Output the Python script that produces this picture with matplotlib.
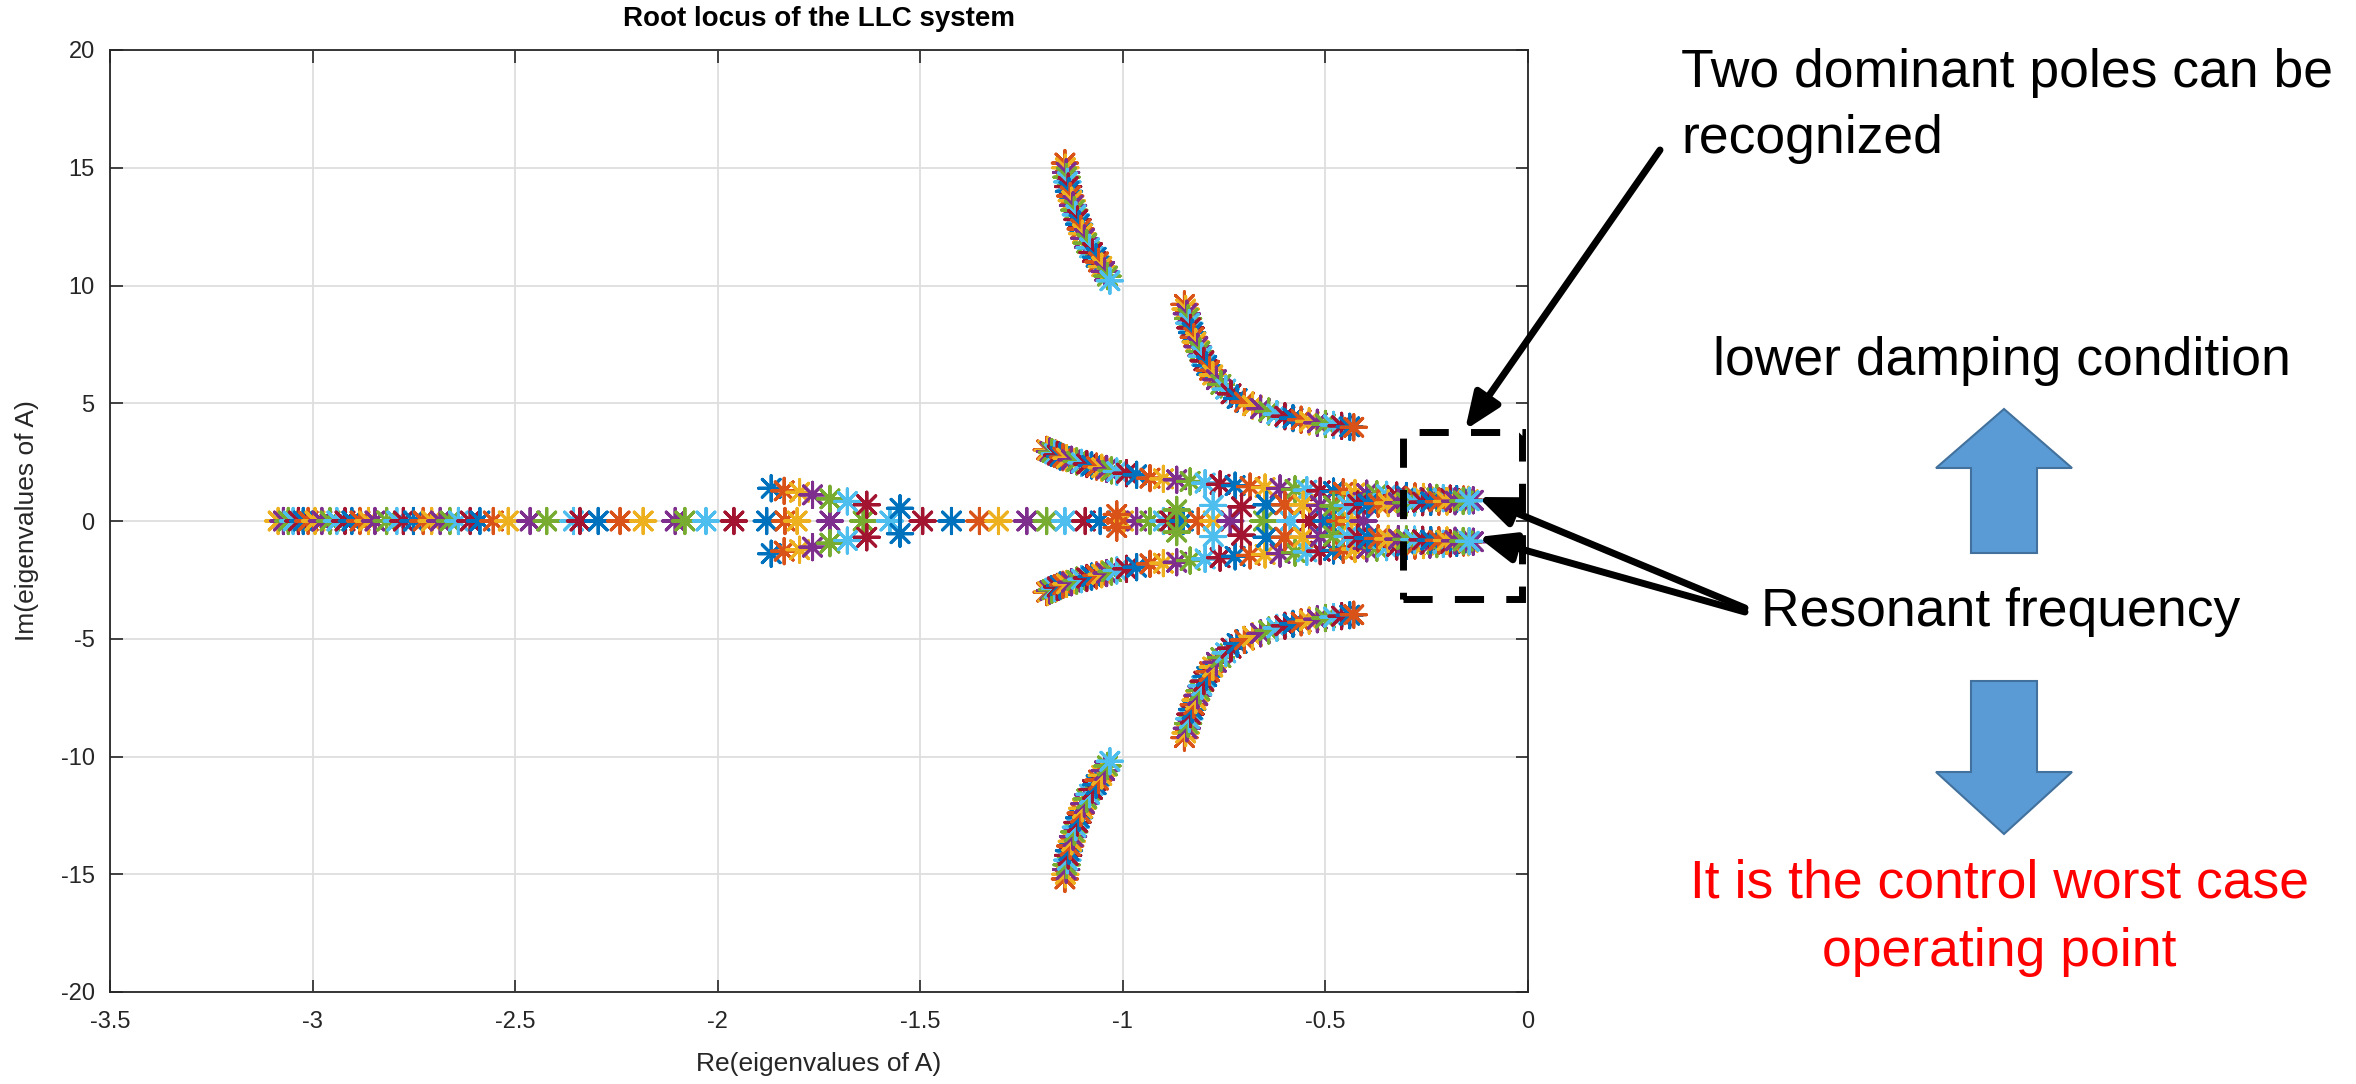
import numpy as np
import matplotlib.pyplot as plt
from matplotlib.patches import Rectangle, Polygon, FancyArrowPatch, ArrowStyle

plt.rcParams['font.family'] = ['Liberation Sans', 'DejaVu Sans']
plt.rcParams['axes.unicode_minus'] = False

# MATLAB default colour order, one colour per parameter step
matlabColors = ['#0072BD', '#D95319', '#EDB120', '#7E2F8E', '#77AC30', '#4DBEEE', '#A2142F']

# eigenvalues (upper half; conjugates are mirrored)
realAxisRe = [-3.085, -3.072, -3.060, -3.048, -3.035, -3.023, -3.011, -2.994, -2.977, -2.957,
              -2.940, -2.920, -2.903, -2.883, -2.862, -2.846, -2.817, -2.792, -2.776, -2.751,
              -2.727, -2.706, -2.685, -2.661, -2.640, -2.611, -2.587, -2.554, -2.517, -2.463,
              -2.422, -2.356, -2.340, -2.295, -2.241, -2.184, -2.105, -2.081, -2.029, -1.960,
              -1.879, -1.834, -1.804, -1.723, -1.641, -1.575, -1.494, -1.423, -1.354, -1.307,
              -1.237, -1.188, -1.143, -1.093, -1.056, -1.015, -0.999, -0.966, -0.933, -0.900,
              -0.884, -0.851, -0.814, -0.777, -0.735, -0.653, -0.587, -0.538, -0.497, -0.464,
              -0.435, -0.406]

smallRe = [-1.868, -1.836, -1.798, -1.766, -1.723, -1.680, -1.632, -1.550, -1.015]
smallIm = [1.39, 1.28, 1.22, 1.11, 0.94, 0.83, 0.69, 0.54, 0.28]

branchARe = [-1.143, -1.142, -1.140, -1.139, -1.137, -1.135, -1.133, -1.130, -1.126, -1.123,
             -1.120, -1.116, -1.112, -1.108, -1.104, -1.100, -1.095, -1.089, -1.082, -1.075,
             -1.066, -1.060, -1.052, -1.045, -1.038, -1.032]
branchAIm = [15.2, 15.0, 14.8, 14.6, 14.4, 14.2, 14.0, 13.8, 13.6, 13.4,
             13.2, 13.0, 12.8, 12.6, 12.4, 12.2, 12.0, 11.8, 11.6, 11.4,
             11.2, 11.0, 10.8, 10.6, 10.4, 10.2]

branchBRe = [-0.848, -0.845, -0.842, -0.839, -0.836, -0.833, -0.829, -0.825, -0.820, -0.815,
             -0.810, -0.805, -0.800, -0.793, -0.786, -0.778, -0.769, -0.758, -0.746, -0.733,
             -0.718, -0.700, -0.680, -0.660, -0.640, -0.620, -0.600, -0.580, -0.560, -0.540,
             -0.520, -0.500, -0.480, -0.460, -0.440, -0.430]
branchBIm = [9.2, 9.0, 8.8, 8.6, 8.4, 8.2, 8.0, 7.8, 7.6, 7.4,
             7.2, 7.0, 6.8, 6.6, 6.4, 6.2, 6.0, 5.8, 5.6, 5.4,
             5.2, 5.05, 4.9, 4.77, 4.65, 4.54, 4.45, 4.37, 4.30, 4.23,
             4.17, 4.12, 4.08, 4.04, 4.00, 3.98]

branchCRe = [-1.188, -1.185, -1.180, -1.175, -1.168, -1.162, -1.155, -1.148, -1.139, -1.127,
             -1.114, -1.102, -1.089, -1.077, -1.065, -1.052, -1.040, -1.028, -1.015, -0.991,
             -0.966, -0.933, -0.900, -0.867, -0.834, -0.797, -0.760, -0.723, -0.686, -0.649,
             -0.612, -0.575, -0.546, -0.513, -0.480, -0.456, -0.427, -0.398, -0.373, -0.349,
             -0.324, -0.300, -0.279, -0.258, -0.242, -0.225, -0.209, -0.192, -0.176, -0.159,
             -0.147, -0.135]
branchCIm = [3.02, 3.00, 2.95, 2.92, 2.85, 2.80, 2.74, 2.71, 2.67, 2.60,
             2.53, 2.47, 2.42, 2.36, 2.31, 2.26, 2.21, 2.15, 2.10, 2.03,
             1.96, 1.82, 1.79, 1.75, 1.68, 1.61, 1.56, 1.50, 1.46, 1.42,
             1.38, 1.34, 1.31, 1.28, 1.25, 1.22, 1.19, 1.16, 1.13, 1.11,
             1.08, 1.06, 1.04, 1.02, 1.00, 0.98, 0.97, 0.95, 0.93, 0.91,
             0.90, 0.88]

innerRe = [-0.867, -0.777, -0.707, -0.645, -0.600, -0.555, -0.513, -0.480, -0.445, -0.420,
           -0.395, -0.370, -0.345, -0.320, -0.300, -0.280, -0.260, -0.240, -0.220, -0.200,
           -0.180, -0.160, -0.145]
innerIm = [0.47, 0.66, 0.60, 0.69, 0.69, 0.69, 0.66, 0.64, 0.66, 0.70,
           0.72, 0.74, 0.76, 0.77, 0.78, 0.79, 0.80, 0.81, 0.82, 0.83,
           0.84, 0.85, 0.86]

xTicks = [-3.5, -3, -2.5, -2, -1.5, -1, -0.5, 0]
xTickLabels = ['-3.5', '-3', '-2.5', '-2', '-1.5', '-1', '-0.5', '0']
yTicks = [-20, -15, -10, -5, 0, 5, 10, 15, 20]
yTickLabels = ['-20', '-15', '-10', '-5', '0', '5', '10', '15', '20']

W, H = 2356, 1084
fig = plt.figure(figsize=(W / 100, H / 100), dpi=100)


def fx(px):
    return px / W


def fy(py):
    return 1 - py / H


ax = fig.add_axes([fx(110), fy(992), 1418 / W, 942 / H])

ast = (8, 2, 0)


def draw(re, im, offset=0, mirror=True):
    cols = [matlabColors[(i + offset) % 7] for i in range(len(re))]
    ax.scatter(re, im, s=330, marker=ast, c=cols, linewidths=2.2, zorder=3)
    if mirror:
        ax.scatter(re, [-v for v in im], s=330, marker=ast, c=cols, linewidths=2.2, zorder=3)


draw(realAxisRe, [0] * len(realAxisRe), offset=2, mirror=False)
draw(smallRe, smallIm)
draw(branchARe, branchAIm, offset=1)
draw(branchBRe, branchBIm, offset=1)
draw(branchCRe, branchCIm, offset=1)
draw(innerRe, innerIm, offset=4)

ax.set_xlim(-3.5, 0)
ax.set_ylim(-20, 20)
ax.set_xticks(xTicks)
ax.set_xticklabels(xTickLabels)
ax.set_yticks(yTicks)
ax.set_yticklabels(yTickLabels)
ax.grid(True, color='#DEDEDE', linewidth=1.3)
ax.set_axisbelow(True)
ax.tick_params(direction='in', length=9, width=1.2, colors='#262626', labelsize=17,
               top=True, right=True)
ax.tick_params(axis='x', pad=14)
ax.tick_params(axis='y', pad=11)
for s in ax.spines.values():
    s.set_color('#262626')
    s.set_linewidth(1.3)

ax.set_title('Root locus of the LLC system', fontsize=20, fontweight='bold', pad=17)
ax.set_xlabel('Re(eigenvalues of A)', fontsize=19, color='#262626', va='center')
ax.set_ylabel('Im(eigenvalues of A)', fontsize=19, color='#262626', va='center')
ax.xaxis.set_label_coords(0.5, -(1064 - 992) / 942)
ax.yaxis.set_label_coords((27 - 110) / 1418, 0.5)

# annotations on the right
fs = 38.5
fig.text(fx(1681), fy(73), 'Two dominant poles can be', fontsize=fs, va='center', ha='left')
fig.text(fx(1681), fy(139), 'recognized', fontsize=fs, va='center', ha='left')
fig.text(fx(2002), fy(361), 'lower damping condition', fontsize=fs, va='center', ha='center')
fig.text(fx(1761), fy(612), 'Resonant frequency', fontsize=fs, va='center', ha='left')
fig.text(fx(1999), fy(884), 'It is the control worst case', fontsize=fs, va='center',
         ha='center', color='#FF0000')
fig.text(fx(1999), fy(952), 'operating point', fontsize=fs, va='center', ha='center',
         color='#FF0000')

# dashed box round the dominant poles
fig.add_artist(Rectangle((fx(1403), fy(599)), (1522 - 1403) / W, (599 - 432) / H,
                         transform=fig.transFigure, fill=False, edgecolor='black', lw=5,
                         linestyle=(0, (4.2, 3.2))))

arrowStyle = ArrowStyle('-|>', head_length=22, head_width=9)
for (x1, y1), (x2, y2) in [((1660, 150), (1465, 430)),
                           ((1745, 608), (1478, 497)),
                           ((1745, 612), (1478, 537))]:
    fig.add_artist(FancyArrowPatch((fx(x1), fy(y1)), (fx(x2), fy(y2)), transform=fig.transFigure,
                                   arrowstyle=arrowStyle, mutation_scale=1, lw=5, color='black',
                                   shrinkA=0, shrinkB=0))

# block arrows
cx = 2004
upArrow = [(cx, 409), (cx + 68, 468), (cx + 33, 468), (cx + 33, 553),
           (cx - 33, 553), (cx - 33, 468), (cx - 68, 468)]
downArrow = [(cx, 834), (cx + 68, 772), (cx + 33, 772), (cx + 33, 681),
             (cx - 33, 681), (cx - 33, 772), (cx - 68, 772)]
for pts in (upArrow, downArrow):
    fig.add_artist(Polygon([(fx(x), fy(y)) for x, y in pts], closed=True, transform=fig.transFigure,
                           facecolor='#5B9BD5', edgecolor='#41719C', lw=1.5))

fig.savefig('out.png', dpi=100)
